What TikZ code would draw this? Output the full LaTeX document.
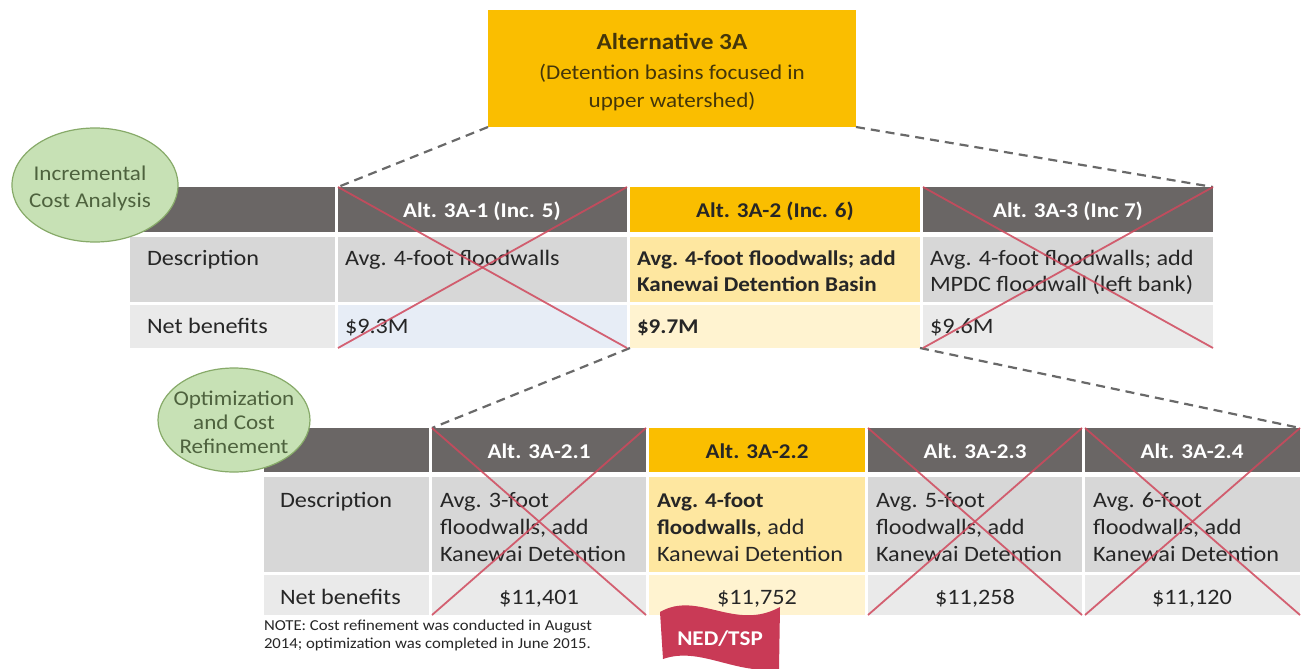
\documentclass[tikz,border=0pt]{standalone}
\usepackage{fontspec}
\setmainfont{Carlito}[FakeStretch=1.1]
\usetikzlibrary{shapes.geometric}
\definecolor{orng}{RGB}{250,190,0}
\definecolor{hdr}{RGB}{106,102,101}
\definecolor{dgray}{RGB}{215,215,215}
\definecolor{ngray}{RGB}{234,234,234}
\definecolor{lorng}{RGB}{254,231,160}
\definecolor{porng}{RGB}{255,243,208}
\definecolor{nblue}{RGB}{231,237,246}
\definecolor{elfill}{RGB}{199,225,181}
\definecolor{eldraw}{RGB}{135,170,105}
\definecolor{eltext}{RGB}{78,98,62}
\definecolor{txtc}{RGB}{38,38,38}
\definecolor{toptxt}{RGB}{68,54,10}
\definecolor{xred}{RGB}{208,72,92}
\definecolor{dashc}{RGB}{105,105,105}
\definecolor{flagc}{RGB}{201,58,86}
\newcommand\cbox[6]{\node[cell, fill=#6, minimum width={(#4-#2)*1pt}, minimum height={(#5-#3)*1pt}] (#1) at (#2,#3) {};}
\begin{document}
\begin{tikzpicture}[x=1pt,y=-1pt,
  cell/.style={draw=none, inner sep=0, outer sep=0, anchor=north west},
  tx/.style={inner sep=0, outer sep=0, text=txtc, font=\fontsize{22}{27}\selectfont},
  txb/.style={tx, font=\fontsize{21}{27}\selectfont\bfseries},
  txw/.style={txb, text=white},
  toptx/.style={inner sep=0, outer sep=0, text=toptxt, font=\fontsize{21}{27}\selectfont},
  eltx/.style={inner sep=0, outer sep=0, text=eltext, font=\fontsize{21}{26}\selectfont},
  bubble/.style={ellipse, fill=elfill, draw=eldraw, line width=1.2pt, inner sep=0},
  xline/.style={draw=xred, line width=1.8pt, opacity=0.85},
  dline/.style={draw=dashc, line width=2.2pt, dash pattern=on 9pt off 6pt},
  notetx/.style={inner sep=0, outer sep=0, text=txtc, font=\fontsize{15.2}{18}\selectfont}
]
\useasboundingbox (0,0) rectangle (1306,669);
\fill[white] (0,0) rectangle (1306,669);

% top box
\cbox{top}{488}{10}{856}{127}{orng}
\node[toptx, font=\fontsize{23}{27}\selectfont\bfseries, anchor=base] (t1) at (672,50) {Alternative 3A};
\node[toptx, anchor=base] (t2) at (672,79) {(Detention basins focused in};
\node[toptx, anchor=base] (t3) at (672,107) {upper watershed)};

% table 1
\cbox{hL}{130}{187}{335}{232}{hdr}
\cbox{h1}{338}{187}{627}{232}{hdr}
\cbox{h2}{630}{187}{920}{232}{orng}
\cbox{h3}{923}{187}{1213}{232}{hdr}
\cbox{dL}{130}{237}{335}{302}{dgray}
\cbox{d1}{338}{237}{627}{302}{dgray}
\cbox{d2}{630}{237}{920}{302}{lorng}
\cbox{d3}{923}{237}{1213}{302}{dgray}
\cbox{nL}{130}{305}{335}{348}{ngray}
\cbox{n1}{338}{305}{627}{348}{nblue}
\cbox{n2}{630}{305}{920}{348}{porng}
\cbox{n3}{923}{305}{1213}{348}{ngray}

\node[txw, anchor=base] (th1) at (482,217) {Alt. 3A-1 (Inc. 5)};
\node[txb, anchor=base] (th2) at (775,217) {Alt. 3A-2 (Inc. 6)};
\node[txw, anchor=base] (th3) at (1068,217) {Alt. 3A-3 (Inc 7)};
\node[tx, anchor=base west] (tdL) at (147,265) {Description};
\node[tx, anchor=base west] (tnL) at (147,333) {Net benefits};
\node[tx, anchor=base west] (td1) at (345,265) {Avg. 4-foot floodwalls};
\node[txb, anchor=base west] (td2a) at (637,265) {Avg. 4-foot floodwalls; add};
\node[txb, anchor=base west] (td2b) at (637,291) {Kanewai Detention Basin};
\node[tx, anchor=base west] (td3a) at (930,265) {Avg. 4-foot floodwalls; add};
\node[tx, anchor=base west] (td3b) at (930,291) {MPDC floodwall (left bank)};
\node[tx, anchor=base west] (tn1) at (345,333) {\$9.3M};
\node[txb, anchor=base west] (tn2) at (637,333) {\$9.7M};
\node[tx, anchor=base west] (tn3) at (930,333) {\$9.6M};

% table 2
\cbox{HL}{264}{428}{429}{472}{hdr}
\cbox{H1}{432}{428}{646}{472}{hdr}
\cbox{H2}{649}{428}{865}{472}{orng}
\cbox{H3}{868}{428}{1082}{472}{hdr}
\cbox{H4}{1085}{428}{1300}{472}{hdr}
\cbox{DL}{264}{477}{429}{572}{dgray}
\cbox{D1}{432}{477}{646}{572}{dgray}
\cbox{D2}{649}{477}{865}{572}{lorng}
\cbox{D3}{868}{477}{1082}{572}{dgray}
\cbox{D4}{1085}{477}{1300}{572}{dgray}
\cbox{NL}{264}{575}{429}{615}{ngray}
\cbox{N1}{432}{575}{646}{615}{ngray}
\cbox{N2}{649}{575}{865}{615}{porng}
\cbox{N3}{868}{575}{1082}{615}{ngray}
\cbox{N4}{1085}{575}{1300}{615}{ngray}

\node[txw, anchor=base] (TH1) at (539,458) {Alt. 3A-2.1};
\node[txb, anchor=base] (TH2) at (757,458) {Alt. 3A-2.2};
\node[txw, anchor=base] (TH3) at (975,458) {Alt. 3A-2.3};
\node[txw, anchor=base] (TH4) at (1192,458) {Alt. 3A-2.4};
\node[tx, anchor=base west] (TDL) at (280,507) {Description};
\node[tx, anchor=base west] (TNL) at (280,604) {Net benefits};
\node[tx, anchor=base west] (TD1a) at (440,507) {Avg. 3-foot};
\node[tx, anchor=base west] (TD1b) at (440,534) {floodwalls, add};
\node[tx, anchor=base west] (TD1c) at (440,561) {Kanewai Detention};
\node[txb, anchor=base west] (TD2a) at (657,507) {Avg. 4-foot};
\node[tx, anchor=base west] (TD2b) at (657,534) {{\fontsize{21}{27}\selectfont\bfseries floodwalls}, add};
\node[tx, anchor=base west] (TD2c) at (657,561) {Kanewai Detention};
\node[tx, anchor=base west] (TD3a) at (876,507) {Avg. 5-foot};
\node[tx, anchor=base west] (TD3b) at (876,534) {floodwalls, add};
\node[tx, anchor=base west] (TD3c) at (876,561) {Kanewai Detention};
\node[tx, anchor=base west] (TD4a) at (1093,507) {Avg. 6-foot};
\node[tx, anchor=base west] (TD4b) at (1093,534) {floodwalls, add};
\node[tx, anchor=base west] (TD4c) at (1093,561) {Kanewai Detention};
\node[tx, anchor=base] (TN1) at (539,604) {\$11,401};
\node[tx, anchor=base] (TN2) at (757,604) {\$11,752};
\node[tx, anchor=base] (TN3) at (975,604) {\$11,258};
\node[tx, anchor=base] (TN4) at (1192,604) {\$11,120};

% dashed connectors
\draw[dline] (top.south west) -- (h1.north west);
\draw[dline] (top.south east) -- (h3.north east);
\draw[dline] (n2.south west) -- (H1.north west);
\draw[dline] (n2.south east) -- (H4.north east);

% red crosses
\draw[xline] (h1.north west) -- (n1.south east);
\draw[xline] (h1.north east) -- (n1.south west);
\draw[xline] (h3.north west) -- (n3.south east);
\draw[xline] (h3.north east) -- (n3.south west);
\draw[xline] (H1.north west) -- (N1.south east);
\draw[xline] (H1.north east) -- (N1.south west);
\draw[xline] (H3.north west) -- (N3.south east);
\draw[xline] (H3.north east) -- (N3.south west);
\draw[xline] (H4.north west) -- (N4.south east);
\draw[xline] (H4.north east) -- (N4.south west);

% bubbles
\node[bubble, minimum width=166pt, minimum height=114pt] (b1) at (95,185) {};
\node[eltx, anchor=base] (b1a) at (90,180) {Incremental};
\node[eltx, anchor=base] (b1b) at (90,207) {Cost Analysis};
\node[bubble, minimum width=152pt, minimum height=104pt] (b2) at (234,420) {};
\node[eltx, anchor=base] (b2a) at (234,405) {Optimization};
\node[eltx, anchor=base] (b2b) at (234,429) {and Cost};
\node[eltx, anchor=base] (b2c) at (234,453) {Refinement};

% note
\node[notetx, anchor=base west] (na) at (264,630) {NOTE: Cost refinement was conducted in August};
\node[notetx, anchor=base west] (nb) at (264,648) {2014; optimization was completed in June 2015.};

% flag
\fill[flagc] (660,612) .. controls (698,590) and (735,632) .. (780,607)
  -- (779,669) .. controls (735,675) and (700,646) .. (663,659) -- cycle;
\node[inner sep=0, text=white, font=\fontsize{21}{25}\selectfont\bfseries, anchor=base] (flag) at (720,645) {NED/TSP};
\end{tikzpicture}
\end{document}
